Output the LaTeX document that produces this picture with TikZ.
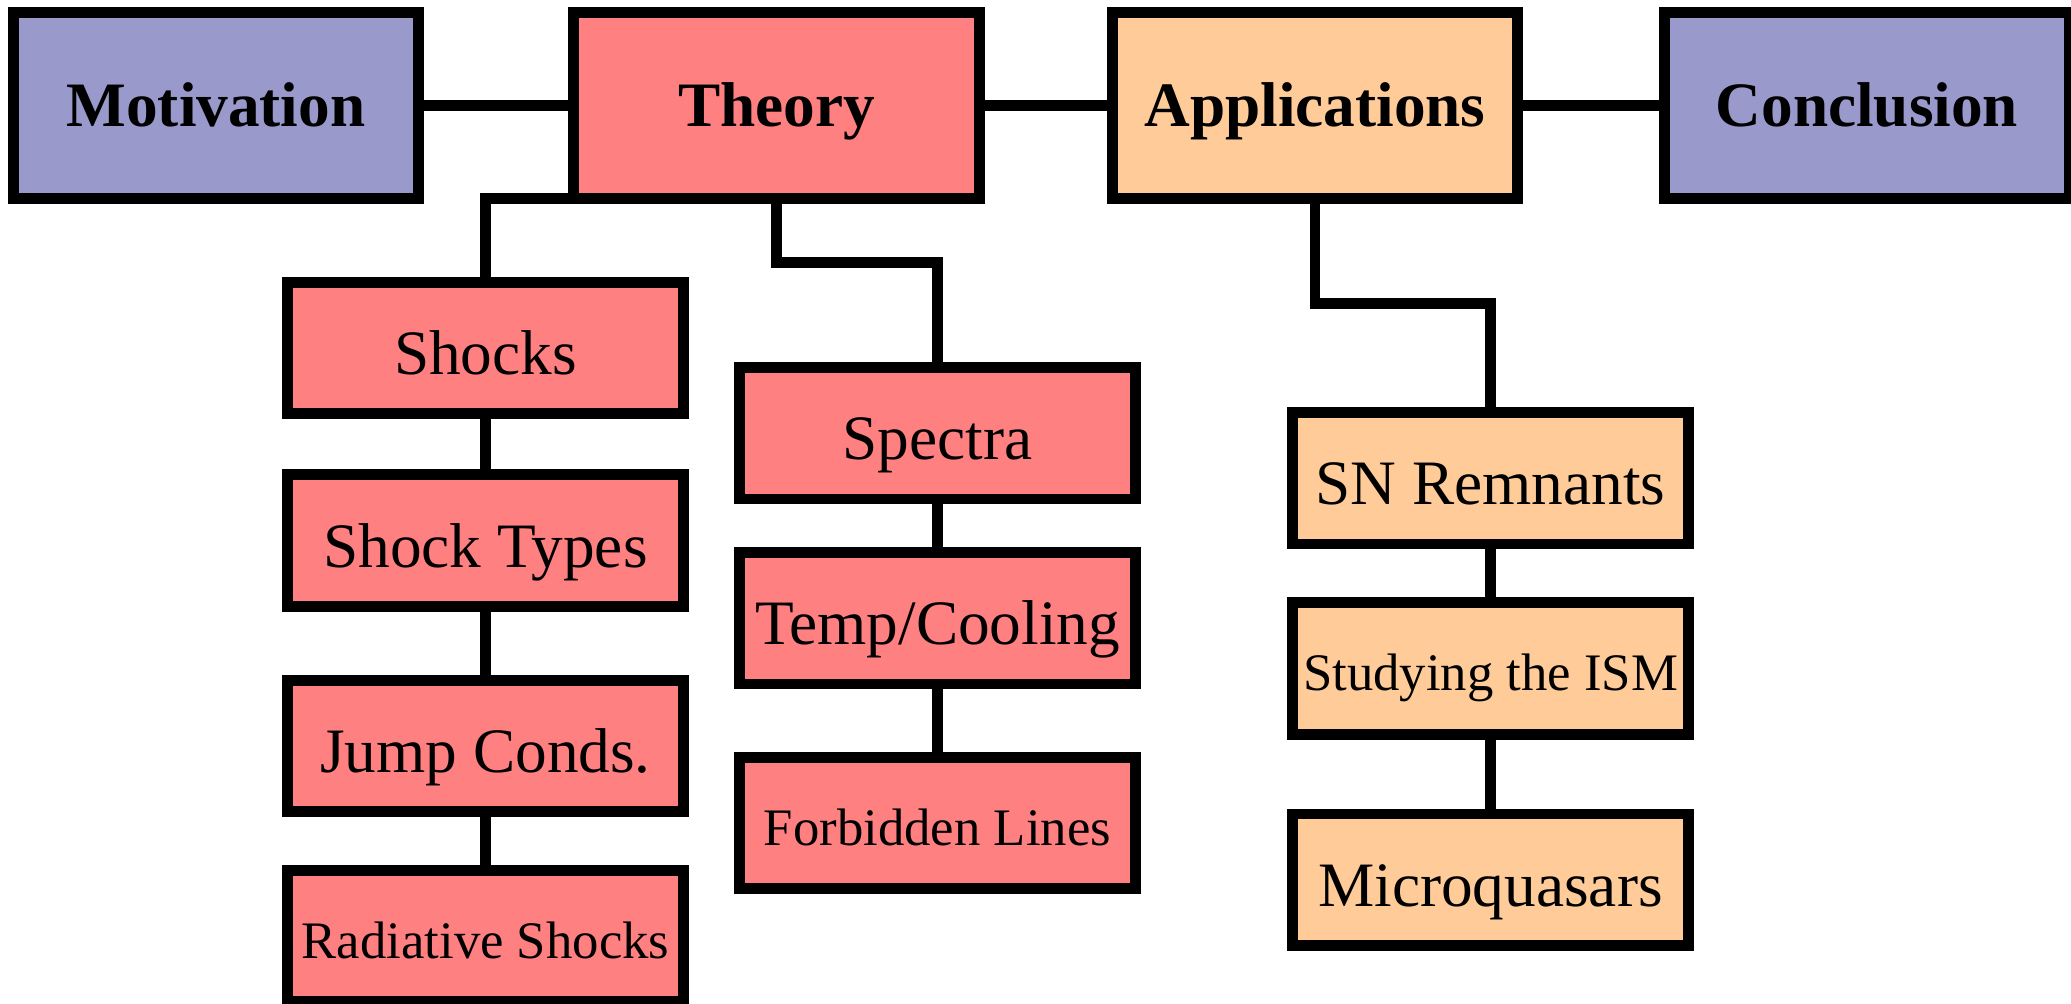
\documentclass[tikz,border=0pt]{standalone}
\usepackage{fontspec}
\setmainfont{Liberation Serif}
\usepackage{tikz}
\usetikzlibrary{positioning}

\definecolor{bluebox}{RGB}{153,153,204}
\definecolor{redbox}{RGB}{255,128,128}
\definecolor{orangebox}{RGB}{255,204,153}

\begin{document}
\begin{tikzpicture}[line width=3pt,
                    box/.style={rectangle,draw,outer sep=0pt,inner sep=0pt,text depth=0pt},
                    top node/.style={box,minimum width=4.055cm,minimum height=1.865cm,
                                     text height=11.7pt,font=\fontsize{18}{21}\selectfont\bfseries},
                    sub node/.style={box,minimum width=3.965cm,minimum height=1.315cm,
                                     text height=15.1pt,font=\fontsize{18}{21}\selectfont},
                    small node/.style={sub node,text height=12.6pt,font=\fontsize{15}{18}\selectfont}]
  \useasboundingbox (0,0) rectangle (20.71,10.04);
  % main row
  \node[top node,fill=bluebox] (motiv) at (2.16,8.985) {Motivation};
  \node[top node,fill=redbox] (theory) [right=1.55cm of motiv] {Theory};
  \node[top node,fill=orangebox] (apps) [right=1.33cm of theory] {Applications};
  \node[top node,fill=bluebox] (concl) [right=1.465cm of apps] {Conclusion};
  % theory branches
  \node[sub node,fill=redbox] (shocks) at (4.855,6.56) {Shocks};
  \node[sub node,fill=redbox] (types) [below=0.61cm of shocks] {Shock Types};
  \node[sub node,fill=redbox] (jump) [below=0.74cm of types] {Jump Conds.};
  \node[small node,fill=redbox] (radiative) [below=0.585cm of jump] {Radiative Shocks};
  \node[sub node,fill=redbox] (spectra) at (9.375,5.706) {Spectra};
  \node[sub node,fill=redbox] (cooling) [below=0.534cm of spectra] {Temp/Cooling};
  \node[small node,fill=redbox] (forbidden) [below=0.732cm of cooling] {Forbidden Lines};
  % applications branch
  \node[sub node,fill=orangebox] (snr) at (14.905,5.257) {SN Remnants};
  \node[small node,fill=orangebox] (ism) [below=0.587cm of snr] {Studying the ISM};
  \node[sub node,fill=orangebox] (micro) [below=0.798cm of ism] {Microquasars};

  \draw (motiv) -- (theory);
  \draw (theory) -- (apps);
  \draw (apps) -- (concl);
  \draw (shocks.north) |- (theory.south west);
  \draw (theory.south) -- ++(0,-0.635) -| (spectra.north);
  \draw (apps.south) -- ++(0,-1.045) -| (snr.north);
  \draw (shocks) -- (types) (types) -- (jump) (jump) -- (radiative);
  \draw (spectra) -- (cooling) (cooling) -- (forbidden);
  \draw (snr) -- (ism) (ism) -- (micro);
\end{tikzpicture}
\end{document}
